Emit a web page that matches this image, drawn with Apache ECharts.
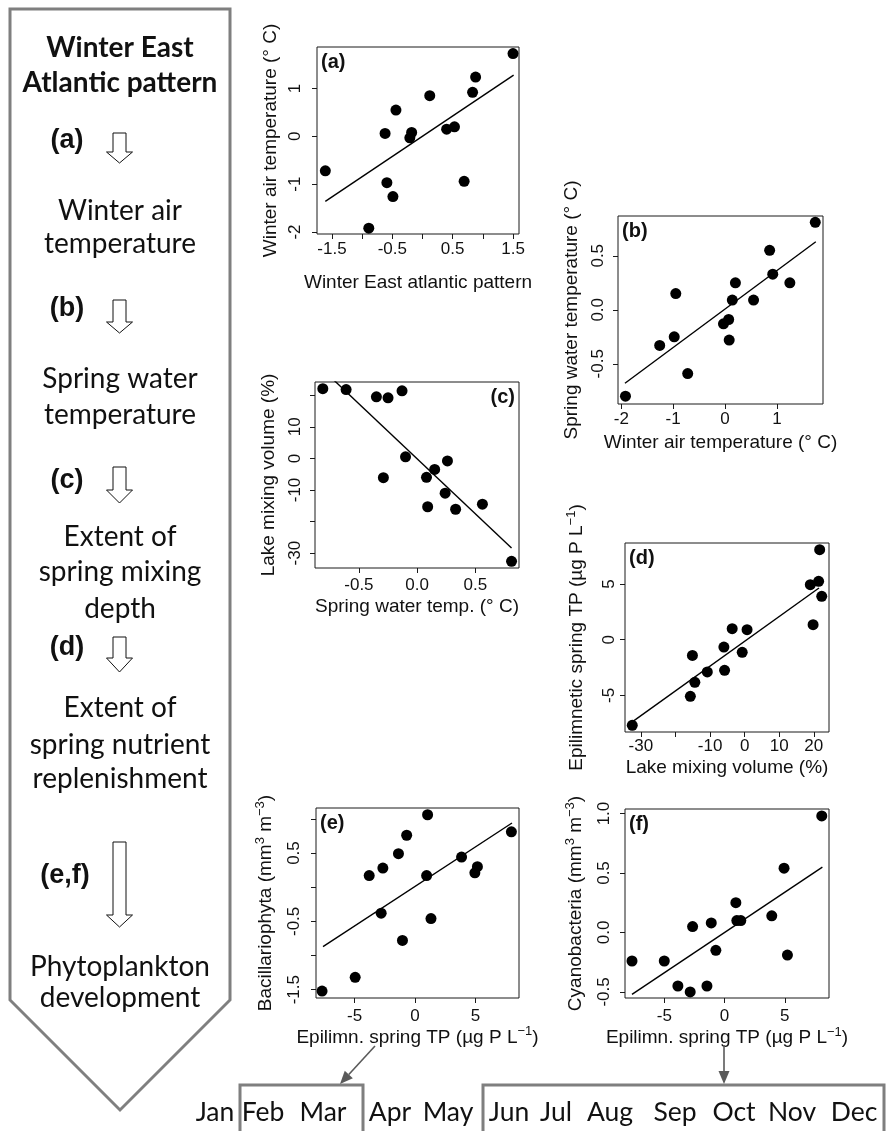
<!DOCTYPE html>
<html><head><meta charset="utf-8">
<script src="https://cdn.jsdelivr.net/npm/echarts@6/dist/echarts.min.js"></script>
<style>html,body{margin:0;padding:0;background:#fff}#c{width:887px;height:1131px}</style>
</head><body><div id="c"></div>
<script>
// ---------------- DATA ----------------
// (a) Winter East Atlantic pattern vs winter air temperature
const aX = [-1.61, -0.89, -0.62, -0.59, -0.49, -0.44, -0.21, -0.18, 0.12, 0.40, 0.53, 0.69, 0.83, 0.88, 1.50];
const aY = [-0.72, -1.92, 0.06, -0.97, -1.26, 0.55, -0.03, 0.08, 0.85, 0.15, 0.20, -0.94, 0.92, 1.24, 1.73];
const aFit = [[-1.61, -1.36], [1.51, 1.28]];
// (b) winter air temperature vs spring water temperature
const bX = [-1.92, -1.26, -0.98, -0.95, -0.72, -0.03, 0.07, 0.08, 0.14, 0.20, 0.55, 0.86, 0.92, 1.25, 1.74];
const bY = [-0.80, -0.33, -0.25, 0.15, -0.59, -0.13, -0.09, -0.28, 0.09, 0.25, 0.09, 0.55, 0.33, 0.25, 0.81];
const bFit = [[-1.93, -0.68], [1.75, 0.63]];
// (c) spring water temperature vs lake mixing volume
const cX = [-0.81, -0.61, -0.35, -0.25, -0.13, -0.29, -0.10, 0.08, 0.09, 0.15, 0.24, 0.26, 0.33, 0.56, 0.81];
const cY = [22.1, 21.8, 19.5, 19.2, 21.4, -6.1, 0.5, -6.0, -15.3, -3.5, -11.0, -0.8, -16.1, -14.5, -32.6];
const cFit = [[-0.81, 28.1], [0.81, -28.4]];
// (d) lake mixing volume vs epilimnetic spring TP
const dX = [-32.5, -15.7, -15.1, -14.4, -10.8, -6.0, -5.8, -3.6, -0.7, 0.7, 19.0, 19.8, 21.4, 21.7, 22.3];
const dY = [-7.69, -5.09, -1.41, -3.83, -2.90, -0.66, -2.75, 0.99, -1.14, 0.90, 4.94, 1.35, 5.24, 8.08, 3.89];
const dFit = [[-32.3, -7.34], [21.5, 4.64]];
// (e) epilimnetic spring TP vs Bacillariophyta
const eX = [-7.69, -4.95, -3.79, -2.66, -2.80, -1.37, -1.04, -0.69, 0.96, 1.04, 1.32, 3.85, 4.95, 5.16, 7.97];
const eY = [-1.52, -1.32, 0.17, 0.28, -0.38, 0.49, -0.78, 0.76, 0.17, 1.06, -0.46, 0.44, 0.21, 0.30, 0.81];
const eFit = [[-7.61, -0.87], [8.02, 0.94]];
// (f) epilimnetic spring TP vs Cyanobacteria
const fX = [-7.68, -5.00, -3.87, -2.85, -2.65, -1.46, -1.10, -0.72, 0.94, 1.02, 1.35, 3.92, 4.94, 5.22, 8.07];
const fY = [-0.24, -0.24, -0.45, -0.50, 0.05, -0.45, 0.08, -0.15, 0.25, 0.10, 0.10, 0.14, 0.54, -0.19, 0.98];
const fFit = [[-7.68, -0.52], [8.12, 0.55]];

// tick positions and tick labels
const aXTicks = [-1.5, -1, -0.5, 0, 0.5, 1, 1.5], aXLabels = [-1.5, -0.5, 0.5, 1.5];
const aYTicks = [-2, -1, 0, 1], aYLabels = [-2, -1, 0, 1];
const bXTicks = [-2, -1, 0, 1], bXLabels = [-2, -1, 0, 1];
const bYTicks = [-0.5, 0, 0.5], bYLabels = [-0.5, 0, 0.5];
const cXTicks = [-0.5, 0, 0.5], cXLabels = [-0.5, 0, 0.5];
const cYTicks = [-30, -20, -10, 0, 10, 20], cYLabels = [-30, -10, 0, 10];
const dXTicks = [-30, -20, -10, 0, 10, 20], dXLabels = [-30, -10, 0, 10, 20];
const dYTicks = [-5, 0, 5], dYLabels = [-5, 0, 5];
const eXTicks = [-5, 0, 5], eXLabels = [-5, 0, 5];
const eYTicks = [-1.5, -1, -0.5, 0, 0.5, 1], eYLabels = [-1.5, -0.5, 0.5];
const fXTicks = [-5, 0, 5], fXLabels = [-5, 0, 5];
const fYTicks = [-0.5, 0, 0.5, 1], fYLabels = [-0.5, 0, 0.5, 1];

// texts ({s|..} marks a superscript)
const panelTags = ['(a)', '(b)', '(c)', '(d)', '(e)', '(f)'];
const xTitles = ['Winter East atlantic pattern', 'Winter air temperature (° C)', 'Spring water temp. (° C)',
  'Lake mixing volume (%)', 'Epilimn. spring TP (µg P L{s|−1})', 'Epilimn. spring TP (µg P L{s|−1})'];
const yTitles = ['Winter air temperature (° C)', 'Spring water temperature (° C)', 'Lake mixing volume (%)',
  'Epilimnetic spring TP (µg P L{s|−1})', 'Bacillariophyta (mm{s|3} m{s|−3})', 'Cyanobacteria (mm{s|3} m{s|−3})'];
const flowTitle = ['Winter East', 'Atlantic pattern'];
const flowSteps = [['Winter air', 'temperature'], ['Spring water', 'temperature'],
  ['Extent of', 'spring mixing', 'depth'], ['Extent of', 'spring nutrient', 'replenishment'],
  ['Phytoplankton', 'development']];
const flowLinks = ['(a)', '(b)', '(c)', '(d)', '(e,f)'];
const months = ['Jan', 'Feb', 'Mar', 'Apr', 'May', 'Jun', 'Jul', 'Aug', 'Sep', 'Oct', 'Nov', 'Dec'];

// ---------------- LAYOUT ----------------
const panels = [
  {x: aX, y: aY, fit: aFit, xt: aXTicks, xl: aXLabels, yt: aYTicks, yl: aYLabels, xd: 1, yd: 0,
   box: [317, 47, 202, 187], xr: [-1.748, 1.599], yr: [-2.042, 1.868], xm: 6.5, ym: 13.5, xg: 37, yg: 34, tagRight: false},
  {x: bX, y: bY, fit: bFit, xt: bXTicks, xl: bXLabels, yt: bYTicks, yl: bYLabels, xd: 0, yd: 1,
   box: [618, 216, 205, 188], xr: [-2.064, 1.889], yr: [-0.872, 0.868], xm: 6.5, ym: 11, xg: 26.5, yg: 34, tagRight: false},
  {x: cX, y: cY, fit: cFit, xt: cXTicks, xl: cXLabels, yt: cYTicks, yl: cYLabels, xd: 1, yd: 0,
   box: [315, 382, 204, 186], xr: [-0.877, 0.874], yr: [-34.7, 24.2], xm: 8.5, ym: 11.5, xg: 27, yg: 34.5, tagRight: true},
  {x: dX, y: dY, fit: dFit, xt: dXTicks, xl: dXLabels, yt: dYTicks, yl: dYLabels, xd: 0, yd: 0,
   box: [625, 543, 204, 189], xr: [-34.6, 24.4], yr: [-8.29, 8.68], xm: 6, ym: 7.5, xg: 22.5, yg: 36, tagRight: false},
  {x: eX, y: eY, fit: eFit, xt: eXTicks, xl: eXLabels, yt: eYTicks, yl: eYLabels, xd: 0, yd: 1,
   box: [316, 808, 203, 190], xr: [-8.19, 8.60], yr: [-1.622, 1.159], xm: 9.5, ym: 13, xg: 21.5, yg: 38.5, tagRight: false},
  {x: fX, y: fY, fit: fFit, xt: fXTicks, xl: fXLabels, yt: fYTicks, yl: fYLabels, xd: 0, yd: 1,
   box: [625, 809, 204, 189], xr: [-8.26, 8.67], yr: [-0.551, 1.038], xm: 10, ym: 12.5, xg: 23, yg: 37, tagRight: false}
];

const INK = '#111';
const GRAY = '#7f7f7f';
const PLOT_FONT = "'Liberation Sans', Arial, Helvetica, sans-serif";
const FLOW_FONT = "Lato, 'Open Sans', sans-serif";
const nameStyle = {fontSize: 19, lineHeight: 24, color: INK, fontFamily: PLOT_FONT,
  rich: {s: {fontSize: 13, lineHeight: 13, verticalAlign: 'top', color: INK, fontFamily: PLOT_FONT}}};

const grids = [], xAxes = [], yAxes = [], series = [], graphic = [];

panels.forEach((p, i) => {
  const [L, T, W, H] = p.box;
  grids.push({left: L, top: T, width: W, height: H, show: true, borderColor: '#1a1a1a', borderWidth: 1,
    backgroundColor: 'transparent', containLabel: false});
  const fmt = d => v => (d ? Number(v).toFixed(d) : String(Math.round(v)));
  xAxes.push({
    type: 'value', gridIndex: i, min: p.xr[0], max: p.xr[1], position: 'bottom',
    axisLine: {show: false, onZero: false}, splitLine: {show: false},
    axisTick: {show: true, length: 5, inside: false, customValues: p.xt, lineStyle: {color: '#1a1a1a', width: 1}},
    axisLabel: {customValues: p.xl, formatter: fmt(p.xd), fontSize: 17, color: INK, fontFamily: PLOT_FONT, margin: p.xm},
    name: xTitles[i], nameLocation: 'middle', nameGap: p.xg, nameTextStyle: nameStyle
  });
  yAxes.push({
    type: 'value', gridIndex: i, min: p.yr[0], max: p.yr[1], position: 'left',
    axisLine: {show: false, onZero: false}, splitLine: {show: false},
    axisTick: {show: true, length: 5, inside: false, customValues: p.yt, lineStyle: {color: '#1a1a1a', width: 1}},
    axisLabel: {customValues: p.yl, formatter: fmt(p.yd), rotate: 90, fontSize: 17, color: INK, fontFamily: PLOT_FONT, margin: p.ym},
    name: yTitles[i], nameLocation: 'middle', nameGap: p.yg, nameTextStyle: nameStyle
  });
  series.push({
    type: 'line', xAxisIndex: i, yAxisIndex: i, data: p.fit, showSymbol: false, symbol: 'none',
    clip: true, lineStyle: {color: '#000', width: 1.4}, silent: true, z: 2
  });
  series.push({
    type: 'scatter', xAxisIndex: i, yAxisIndex: i, data: p.x.map((v, k) => [v, p.y[k]]),
    symbol: 'circle', symbolSize: 11, itemStyle: {color: '#000', opacity: 1}, silent: true, z: 3
  });
  graphic.push({
    type: 'text', x: p.tagRight ? L + W - 4 : L + 4, y: T + 15, z: 10,
    style: {text: panelTags[i], fill: INK, fontSize: 20, fontWeight: 'bold', fontFamily: PLOT_FONT,
      textAlign: p.tagRight ? 'right' : 'left', align: p.tagRight ? 'right' : 'left',
      textVerticalAlign: 'middle', verticalAlign: 'middle'}
  });
});

// ---------- left flow diagram ----------
const FX = 120;
graphic.push({type: 'polygon', z: 0, shape: {points: [[10, 9], [230, 9], [230, 1000], [FX, 1110], [10, 1000]]},
  style: {fill: '#fff', stroke: GRAY, lineWidth: 3}});
function txt(s, x, y, size, weight, family, align) {
  graphic.push({type: 'text', x: x, y: y, z: 5,
    style: {text: s, fill: '#111', fontSize: size, fontWeight: weight, fontFamily: family,
      textAlign: align || 'center', align: align || 'center', textVerticalAlign: 'middle', verticalAlign: 'middle'}});
}
const titleY = [48, 83];
flowTitle.forEach((s, k) => txt(s, FX, titleY[k], 28, 'bold', FLOW_FONT));
const stepY = [[211, 244], [379, 415], [537, 572, 609], [708, 745, 779], [967, 998]];
flowSteps.forEach((lines, k) => lines.forEach((s, j) => txt(s, FX, stepY[k][j], 28, 'normal', FLOW_FONT)));
const linkY = [141, 309, 481, 648, 876];
const linkX = [67, 67, 67, 67, 65];
flowLinks.forEach((s, k) => txt(s, linkX[k], linkY[k], 27, 'bold', PLOT_FONT));
// hollow block arrows: [shaft top, head start, tip]
const blockArrows = [[133, 152, 163], [300, 322, 333], [467, 490, 503], [637, 658, 672], [842, 915, 927]];
blockArrows.forEach(([t, h, e]) => {
  const cx = 119.5, sw = 6.5, hw = 13;
  graphic.push({type: 'polygon', z: 5,
    shape: {points: [[cx - sw, t], [cx + sw, t], [cx + sw, h], [cx + hw, h], [cx, e], [cx - hw, h], [cx - sw, h]]},
    style: {fill: '#fff', stroke: '#111', lineWidth: 1}});
});

// ---------- months row ----------
const monthX = [215, 263, 323, 390, 448, 509, 556, 610, 675, 734, 792, 854];
months.forEach((m, k) => txt(m, monthX[k], 1112, 26.5, 'normal', FLOW_FONT));
const monthBoxes = [[240, 363], [483, 884]];
monthBoxes.forEach(([x0, x1]) => graphic.push({type: 'rect', z: 4,
  shape: {x: x0, y: 1085, width: x1 - x0, height: 90}, style: {fill: 'none', stroke: GRAY, lineWidth: 3}}));

// connector arrows (from e and f x-titles to season boxes)
const connectors = [[[375, 1046], [340, 1084]], [[724, 1045], [724, 1084]]];
connectors.forEach(([s, t]) => {
  const dx = t[0] - s[0], dy = t[1] - s[1], len = Math.hypot(dx, dy);
  const ux = dx / len, uy = dy / len, hl = 13, hw = 5.5;
  const bx = t[0] - ux * hl, by = t[1] - uy * hl;
  graphic.push({type: 'line', z: 6, shape: {x1: s[0], y1: s[1], x2: bx, y2: by}, style: {stroke: '#5a5a5a', lineWidth: 1.6}});
  graphic.push({type: 'polygon', z: 6,
    shape: {points: [[t[0], t[1]], [bx - uy * hw, by + ux * hw], [bx + uy * hw, by - ux * hw]]},
    style: {fill: '#5a5a5a', stroke: 'none'}});
});

const chart = echarts.init(document.getElementById('c'), null, {renderer: 'canvas', width: 887, height: 1131});
chart.setOption({
  animation: false,
  backgroundColor: '#fff',
  grid: grids, xAxis: xAxes, yAxis: yAxes, series: series, graphic: graphic
});
</script>
</body></html>
